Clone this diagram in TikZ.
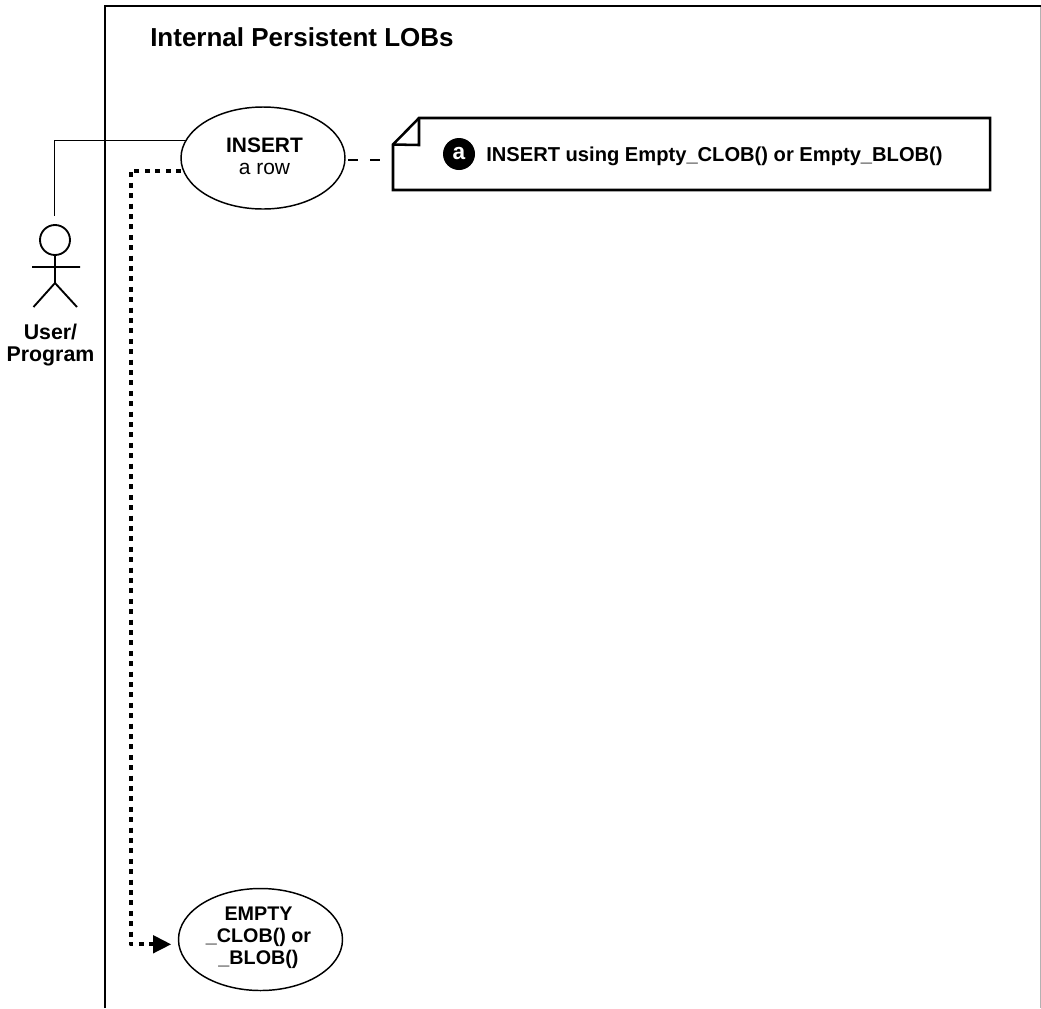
\documentclass[tikz,border=0pt]{standalone}
\usepackage{fontspec}
\setmainfont{Liberation Sans}
\usetikzlibrary{arrows.meta,shapes.geometric}
\tikzset{
  frameline/.style={line width=2.2pt,line cap=butt,line join=miter},
  usecase/.style={draw=black,ellipse,line width=1.1pt,fill=white,inner sep=0pt,align=center,minimum width=123pt,minimum height=76.5pt},
  flow/.style={line width=3pt,line join=round,dash pattern=on 3.75pt off 4.05pt},
  thinline/.style={line width=0.65pt},
  stick/.style={line width=1.4pt},
  notebox/.style={line width=1.9pt,line join=miter},
  lab/.style={inner sep=0pt,align=center,font=\fontsize{16}{16.4}\selectfont\bfseries}
}
\begin{document}
\begin{tikzpicture}[x=0.75pt,y=-0.75pt]
\useasboundingbox (0,0) rectangle (1041,1008);
% frame
\draw[gray!60,line width=0.75pt] (1040.3,6) -- (1040.3,1008);
\draw[frameline] (105,1008) -- (105,6) -- (1041,6);
\node[anchor=base west,inner sep=0pt,font=\fontsize{19.5}{21}\selectfont\bfseries] (title) at (150,46.7) {Internal Persistent LOBs};
% use cases
\node[usecase] (insert) at (263,158) {};
\node[inner sep=0pt,align=center,font=\fontsize{15.7}{16.5}\selectfont] (inserttext) at (264.5,156.5) {\textbf{INSERT}\\a row};
\node[usecase] (empty) at (260.5,939.5) {};
\node[lab,font=\fontsize{14.8}{16.5}\selectfont\bfseries] (emptytext) at (258.5,937.5) {EMPTY\\\_CLOB() or\\\_BLOB()};
% actor
\coordinate (head) at (55,240);
\coordinate (neck) at (55,255);
\coordinate (hip) at (55,283);
\coordinate (armL) at (32,267);
\coordinate (armR) at (80,267);
\coordinate (legL) at (33.5,307);
\coordinate (legR) at (77,307);
\draw[stick] (head) circle[radius=15];
\draw[stick] (neck) -- (hip) (armL) -- (armR) (legL) -- (hip) -- (legR);
\node[lab] (user) at (50.5,345) {User/\\Program};
% connectors
\coordinate (actortop) at (54,215.7);
\coordinate (corner) at (54,140);
\coordinate (ins1) at (186,140);
\draw[thinline] (actortop) -- (corner) -- (ins1);
\coordinate (d0) at (181,170.7);
\coordinate (d1) at (130.7,170.7);
\coordinate (d2) at (130.7,944.3);
\coordinate (d3) at (153,944.3);
\draw[flow] (d0) -- (d1) -- (d2) -- (d3);
\coordinate (tipA) at (153,935);
\coordinate (tipB) at (153,953.5);
\coordinate (tipC) at (171,944.3);
\fill (tipA) -- (tipC) -- (tipB) -- cycle;
% note
\coordinate (n1) at (393,144.5);
\coordinate (n2) at (419,118);
\coordinate (n3) at (990,118);
\coordinate (n4) at (990,190);
\coordinate (n5) at (393,190);
\coordinate (n6) at (419,145);
\draw[notebox] (n1) -- (n2) -- (n3) -- (n4) -- (n5) -- cycle;
\draw[notebox] (n2) -- (n6) -- (n1);
\coordinate (dashA) at (348,159.5);
\coordinate (dashB) at (393,159.5);
\draw[line width=1.5pt,dash pattern=on 7.5pt off 9pt] (dashA) -- (dashB);
\node[circle,fill=black,text=white,inner sep=0pt,minimum size=24pt,font=\fontsize{17}{17}\selectfont\bfseries] (badge) at (459,154) {a};
\node[anchor=base west,inner sep=0pt,font=\fontsize{15.1}{17}\selectfont\bfseries] (notetext) at (486,161.7) {INSERT using Empty\_CLOB() or Empty\_BLOB()};
\end{tikzpicture}
\end{document}
